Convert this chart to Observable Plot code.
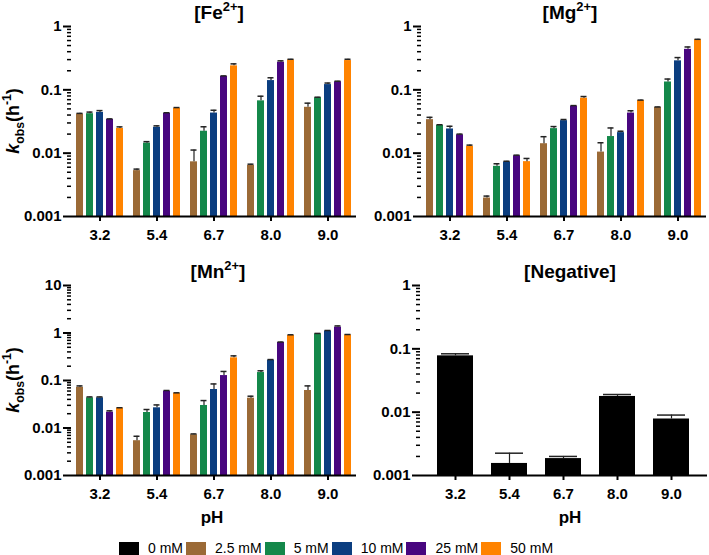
<!DOCTYPE html>
<html>
<head>
<meta charset="utf-8">
<script src="https://cdn.jsdelivr.net/npm/d3@7"></script>
<script src="https://cdn.jsdelivr.net/npm/@observablehq/plot@0.6"></script>
<style>
  body { margin: 0; background: #fff; }
  #root { position: relative; width: 709px; height: 555px; overflow: hidden; background: #fff;
          font-family: "Liberation Sans", Arial, sans-serif; }
  .panel { position: absolute; }
  #legend { position: absolute; left: 119px; top: 540px; display: flex; align-items: center;
            font-size: 14px; color: #000; white-space: nowrap; }
  #legend .sw { width: 20px; height: 13px; margin-right: 9px; }
  #legend .lb { margin-right: 3px; }
</style>
</head>
<body>
<div id="root"><div id="legend"></div></div>
<script>
// ---------- data ----------
const pHLabels = ["3.2", "5.4", "6.7", "8.0", "9.0"];
const concLabels = ["0 mM", "2.5 mM", "5 mM", "10 mM", "25 mM", "50 mM"];
const concColors = ["#000000", "#9b6a36", "#14884a", "#0b3e80", "#48067f", "#ff8300"];
const yMajorLow = [0.001, 0.01, 0.1, 1];
const yMajorMn = [0.001, 0.01, 0.1, 1, 10];

// rows: 2.5, 5, 10, 25, 50 mM ; columns: pH 3.2, 5.4, 6.7, 8.0, 9.0
const feMean = [
  [0.0415, 0.0053, 0.0073, 0.0064, 0.053],
  [0.042, 0.0144, 0.0222, 0.067, 0.075],
  [0.044, 0.0256, 0.043, 0.14, 0.121],
  [0.034, 0.0425, 0.163, 0.273, 0.134],
  [0.0245, 0.051, 0.239, 0.297, 0.29]
];
const feSD = [
  [0.001, 0.0003, 0.0039, 0.0003, 0.0086],
  [0.0025, 0.0008, 0.0039, 0.0123, 0.0015],
  [0.003, 0.0014, 0.0046, 0.015, 0.007],
  [0.0008, 0.001, 0.003, 0.014, 0.003],
  [0.0015, 0.0015, 0.018, 0.007, 0.014]
];
const mgMean = [
  [0.0338, 0.00196, 0.0141, 0.0104, 0.0527],
  [0.0275, 0.0062, 0.0244, 0.0183, 0.133],
  [0.0241, 0.00726, 0.0326, 0.0211, 0.287],
  [0.0195, 0.0091, 0.0553, 0.043, 0.436],
  [0.0128, 0.00735, 0.0738, 0.0679, 0.618]
];
const mgSD = [
  [0.003, 0.00014, 0.0041, 0.0042, 0.001],
  [0.0006, 0.0006, 0.0019, 0.0067, 0.015],
  [0.0025, 0.0002, 0.0014, 0.0011, 0.036],
  [0.0005, 0.0002, 0.0011, 0.0037, 0.039],
  [0.0006, 0.0009, 0.0046, 0.001, 0.01]
];
const mnMean = [
  [0.072, 0.0054, 0.0072, 0.0425, 0.0616],
  [0.0431, 0.0212, 0.0298, 0.147, 0.96],
  [0.0431, 0.0266, 0.0646, 0.268, 1.1],
  [0.0215, 0.0596, 0.127, 0.631, 1.33],
  [0.0262, 0.054, 0.30, 0.886, 0.91]
];
const mnSD = [
  [0.005, 0.0013, 0.0003, 0.0042, 0.0154],
  [0.002, 0.0033, 0.008, 0.013, 0.02],
  [0.002, 0.004, 0.02, 0.008, 0.03],
  [0.0015, 0.002, 0.028, 0.015, 0.08],
  [0.0005, 0.001, 0.03, 0.03, 0.02]
];
const negMean = [0.0775, 0.00155, 0.00185, 0.0177, 0.0078];
const negSD = [0.006, 0.0007, 0.00015, 0.0013, 0.0012];

// ---------- helpers ----------
const FONT = '"Liberation Sans", Arial, sans-serif';
const yMin = 0.001;
const minorOf = (majors) => majors.slice(0, -1).flatMap(d => [2,3,4,5,6,7,8,9].map(m => m * d));

function toRows(means, sds) {
  const rows = [];
  means.forEach((arr, c) => arr.forEach((k, p) =>
    rows.push({pH: pHLabels[p], conc: concLabels[c + 1], k, top: k + sds[c][p]})));
  return rows;
}

function richText(svg, x, y, size, parts, rotate) {
  const t = d3.select(svg).append("text")
    .attr("text-anchor", "middle").attr("font-size", size).attr("font-weight", "bold")
    .attr("fill", "black").attr("font-family", FONT)
    .attr("transform", rotate ? `translate(${x},${y}) rotate(-90)` : `translate(${x},${y})`);
  let shift = 0;
  for (const p of parts) {
    const s = t.append("tspan").text(p.t);
    const target = p.sup ? -0.42 * size : p.sub ? 0.3 * size : 0;
    s.attr("dy", target - shift);
    shift = target;
    if (p.sup || p.sub) s.attr("font-size", size * 0.68);
    if (p.it) s.attr("font-style", "italic");
  }
}

const yLabelParts = [{t: "k", it: true}, {t: "obs", sub: true}, {t: "(h"}, {t: "-1", sup: true}, {t: ")"}];

function axesMarks(majors) {
  return [
    Plot.axisY({ticks: minorOf(majors), tickSize: 4, tickFormat: () => "", strokeWidth: 1.5, label: null}),
    Plot.axisY({ticks: majors, tickSize: 8, tickPadding: 2, tickFormat: d => String(d),
                strokeWidth: 2, line: true, label: null}),
    Plot.ruleY([yMin], {strokeWidth: 2})
  ];
}

const baseStyle = {background: "transparent", fontFamily: FONT, fontSize: "15px",
                   fontWeight: "bold", color: "black", overflow: "visible"};

function metalPanel({means, sds, majors, left, top, height, marginLeft, marginBottom, title, titleX, ylab, pHlab}) {
  const rows = toRows(means, sds);
  const chart = Plot.plot({
    width: 359, height, marginLeft, marginRight: 2, marginTop: 26, marginBottom,
    style: baseStyle,
    fx: {domain: pHLabels, padding: 0, label: null},
    x: {domain: concLabels.slice(1), paddingInner: 0.35, paddingOuter: 0.47, axis: null},
    y: {type: "log", domain: [yMin, majors[majors.length - 1]]},
    color: {domain: concLabels, range: concColors},
    marks: [
      Plot.barY(rows, {fx: "pH", x: "conc", y1: () => yMin, y2: "k", fill: "conc"}),
      Plot.ruleX(rows, {fx: "pH", x: "conc", y1: "k", y2: "top", stroke: "#222", strokeWidth: 1.2}),
      Plot.tickY(rows, {fx: "pH", x: "conc", y: "top", stroke: "#222", strokeWidth: 1.5, insetLeft: 0.5, insetRight: 0.5}),
      ...axesMarks(majors),
      Plot.axisFx({tickSize: 5, tickPadding: 8, strokeWidth: 2, label: null, anchor: "bottom"})
    ]
  });
  chart.classList.add("panel");
  chart.style.left = left + "px";
  chart.style.top = top + "px";
  richText(chart, titleX, 19, 19, title, false);
  if (ylab) richText(chart, 19, 121, 18, yLabelParts, true);
  if (pHlab) richText(chart, titleX - 6, 264, 17, [{t: "pH"}], false);
  document.getElementById("root").appendChild(chart);
}

metalPanel({means: feMean, sds: feSD, majors: yMajorLow, left: 0, top: 0, height: 260,
  marginLeft: 69, marginBottom: 44, title: [{t: "[Fe"}, {t: "2+", sup: true}, {t: "]"}], titleX: 219, ylab: true});
metalPanel({means: mgMean, sds: mgSD, majors: yMajorLow, left: 350, top: 0, height: 260,
  marginLeft: 69, marginBottom: 44, title: [{t: "[Mg"}, {t: "2+", sup: true}, {t: "]"}], titleX: 220, ylab: false});
metalPanel({means: mnMean, sds: mnSD, majors: yMajorMn, left: 0, top: 259, height: 270,
  marginLeft: 69, marginBottom: 54, title: [{t: "[Mn"}, {t: "2+", sup: true}, {t: "]"}], titleX: 218, ylab: true, pHlab: true});

// Negative panel
(function () {
  const rows = negMean.map((k, i) => ({pH: pHLabels[i], k, top: k + negSD[i]}));
  const chart = Plot.plot({
    width: 359, height: 270, marginLeft: 70, marginRight: 2, marginTop: 26, marginBottom: 54,
    style: baseStyle,
    x: {domain: pHLabels, paddingInner: 0.333, paddingOuter: 0.32, axis: null},
    y: {type: "log", domain: [yMin, 1]},
    marks: [
      Plot.barY(rows, {x: "pH", y1: () => yMin, y2: "k", fill: concColors[0]}),
      Plot.ruleX(rows, {x: "pH", y1: "k", y2: "top", stroke: "#222", strokeWidth: 1.2}),
      Plot.tickY(rows, {x: "pH", y: "top", stroke: "#222", strokeWidth: 1.5, insetLeft: 4, insetRight: 4}),
      ...axesMarks(yMajorLow),
      Plot.axisX({tickSize: 5, tickPadding: 8, strokeWidth: 2, label: null, anchor: "bottom"})
    ]
  });
  chart.classList.add("panel");
  chart.style.left = "350px";
  chart.style.top = "259px";
  richText(chart, 220, 19, 19, [{t: "[Negative]"}], false);
  richText(chart, 220, 264, 17, [{t: "pH"}], false);
  document.getElementById("root").appendChild(chart);
})();

// Legend
const legend = d3.select("#legend");
concLabels.forEach((lab, i) => {
  legend.append("div").attr("class", "sw").style("background", concColors[i]);
  legend.append("span").attr("class", "lb").text(lab);
});
</script>
</body>
</html>
